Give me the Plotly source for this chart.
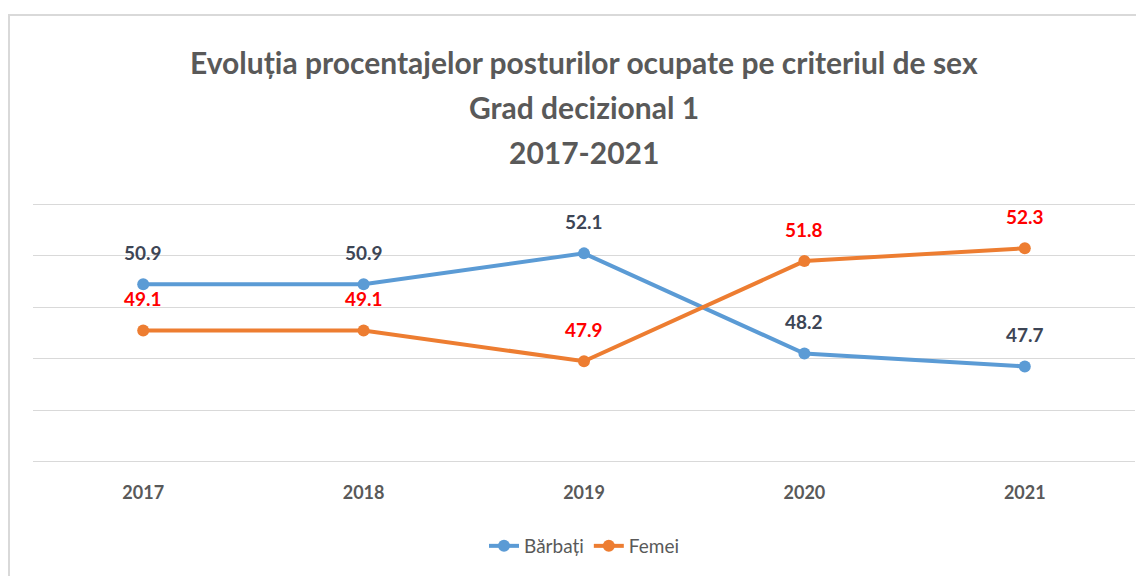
import plotly.graph_objects as go

years = ["2017", "2018", "2019", "2020", "2021"]
barbati = [50.9, 50.9, 52.1, 48.2, 47.7]
femei = [49.1, 49.1, 47.9, 51.8, 52.3]
title_lines = ["Evoluția procentajelor posturilor ocupate pe criteriul de sex",
               "Grad decizional 1", "2017-2021"]

# page body has an 8px margin; figure coordinates are page coordinates minus 8
OFF = 8
W, H = 1144 - OFF, 576 - OFF
L, R, T, B = 33 - OFF, 9, 202 - OFF, 112
pw, ph = W - L - R, H - T - B

def px_x(p):
    return (p - OFF - L) / pw

def px_y(p):
    return (H - B - (p - OFF)) / ph

FONT = "Lato, Carlito, Calibri, sans-serif"
BLUE = "#5B9BD5"
ORANGE = "#ED7D31"

fig = go.Figure()
fig.add_trace(go.Scatter(x=years, y=barbati, name="Bărbați", mode="lines+markers",
                         line=dict(color=BLUE, width=4), marker=dict(size=12, color=BLUE)))
fig.add_trace(go.Scatter(x=years, y=femei, name="Femei", mode="lines+markers",
                         line=dict(color=ORANGE, width=4), marker=dict(size=12, color=ORANGE)))

ann = []
for i, v in enumerate(barbati):
    ann.append(dict(x=i, y=v, xref="x", yref="y", text=f"<b>{v:.1f}</b>", showarrow=False,
                    yshift=32, font=dict(family=FONT, size=19, color="#3D4555")))
for i, v in enumerate(femei):
    ann.append(dict(x=i, y=v, xref="x", yref="y", text=f"<b>{v:.1f}</b>", showarrow=False,
                    yshift=32, font=dict(family=FONT, size=19, color="#FF0000")))
for txt, py in zip(title_lines, [62, 107, 152]):
    ann.append(dict(x=0.5, y=px_y(py), xref="paper", yref="paper", text=f"<b>{txt}</b>",
                    showarrow=False, xanchor="center", yanchor="middle",
                    font=dict(family=FONT, size=30, color="#595959")))

fig.update_layout(
    width=W, height=H,
    margin=dict(l=L, r=R, t=T, b=B),
    paper_bgcolor="white", plot_bgcolor="white",
    annotations=ann,
    showlegend=True,
    legend=dict(orientation="h", x=0.5, xanchor="center", y=px_y(546), yanchor="middle",
                font=dict(family=FONT, size=19, color="#595959"),
                bgcolor="rgba(0,0,0,0)"),
    shapes=[dict(type="rect", xref="paper", yref="paper",
                 x0=px_x(9), x1=px_x(1160), y0=px_y(15), y1=px_y(590),
                 line=dict(color="#D9D9D9", width=2), layer="below")],
)
fig.update_xaxes(type="category", range=[-0.5, 4.5], showgrid=False, zeroline=False,
                 showline=False, ticks="", ticklabelstandoff=16,
                 tickfont=dict(family=FONT, size=18, color="#595959"),
                 tickprefix="<b>", ticksuffix="</b>")
fig.update_yaxes(range=[43.9, 54.1], tickvals=[44, 46, 48, 50, 52, 54], showgrid=True,
                 gridcolor="#D9D9D9", gridwidth=1, zeroline=False, showline=False,
                 showticklabels=False)

fig.write_html("out.html")
